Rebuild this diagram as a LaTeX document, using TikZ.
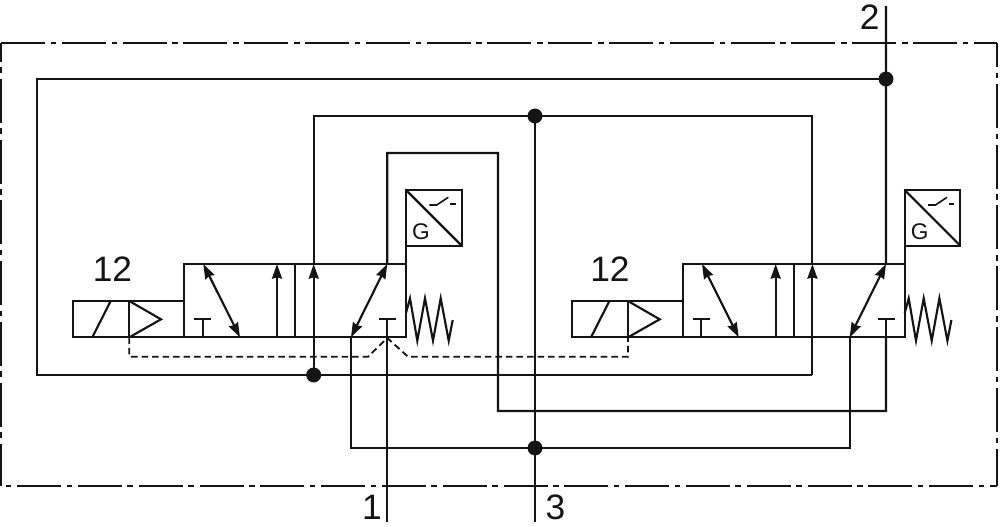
\documentclass[tikz,border=0pt]{standalone}
\usepackage{fontspec}
\setmainfont{Liberation Sans}
\usetikzlibrary{arrows.meta}
\definecolor{ink}{HTML}{141414}
\tikzset{
  x=0.75pt,y=-0.75pt,
  pipe/.style={draw=ink,line width=1.6pt},
  frameline/.style={draw=ink,line width=1.5pt,dash pattern=on 33pt off 4.275pt on 4.2pt off 4.125pt},
  pilot/.style={draw=ink,line width=1.4pt,dash pattern=on 4.9pt off 3pt},
  flow/.style={pipe,-{Stealth[length=11pt,width=7.5pt,inset=1pt]}},
  flowboth/.style={pipe,{Stealth[length=11pt,width=7.5pt,inset=1pt]}-{Stealth[length=11pt,width=7.5pt,inset=1pt]}},
  junction/.style={circle,fill=ink,draw=none,inner sep=0pt,minimum size=11.2pt},
  portlabel/.style={text=ink,font=\fontsize{26.5}{26.5}\selectfont,inner sep=0pt},
  glabel/.style={text=ink,font=\fontsize{17}{17}\selectfont,inner sep=0pt},
  valve/.pic={
    % named ports
    \coordinate (-a3t) at (313.7,264);
    \coordinate (-a4t) at (387.3,264);
    \coordinate (-a4b) at (351,337.3);
    \coordinate (-tb) at (387.3,337.3);
    \coordinate (-pilot) at (129.3,337.3);
    % body
    \draw[pipe] (184.3,264) rectangle (406,337.3);
    \draw[pipe] (295.3,264) -- (295.3,337.3);
    % solenoid
    \draw[pipe] (184.3,301) -- (73.3,301) -- (73.3,337.3) -- (184.3,337.3);
    \draw[pipe] (129.3,301) -- (129.3,337.3);
    \draw[pipe] (92.3,337.3) -- (110.7,301);
    \draw[pipe] (129.3,301) -- (161,319.3) -- (129.3,337.3);
    % flow arrows
    \draw[flowboth] (203.3,264) -- (240,337.3);
    \draw[flow] (277,337.3) -- (277,264);
    \draw[flowboth] (-a4t) -- (-a4b);
    % blocked ports
    \draw[pipe] (194,319.3) -- (211,319.3);
    \draw[pipe] (202.7,319.3) -- (202.7,337.3);
    \draw[pipe] (379,319.3) -- (396.3,319.3);
    \draw[pipe] (387.3,319.3) -- (-tb);
    % spring
    \draw[pipe] (406,313) -- (410,298.3) -- (417.3,340.7) -- (425,298.3) -- (433,340.7) -- (440.7,298.3) -- (448.7,340.7) -- (452.7,320);
    % pressure switch
    \draw[pipe] (406,264) -- (406,190) -- (461.7,190) -- (461.7,245.7) -- (406,245.7);
    \draw[pipe] (406,190) -- (461.7,245.7);
    \node[glabel] (-g) at (421,231.7) {G};
    \draw[draw=ink,line width=1.2pt] (429.3,205) -- (436.7,205) -- (448.3,197.3);
    \draw[draw=ink,line width=1.2pt] (450,204) -- (455.7,204);
  }
}
\begin{document}
\begin{tikzpicture}
\useasboundingbox (0,0) rectangle (1000,526);
\fill[white] (0,0) rectangle (1000,526);
% frame: each side has its own dash phase
\coordinate (f1) at (1,42.5);
\coordinate (f2) at (997,42.5);
\coordinate (f3) at (997,485.5);
\coordinate (f4) at (1,485.5);
\draw[frameline] (f1) -- (f2);
\draw[frameline,dash phase=14.6pt] (f2) -- (f3);
\draw[frameline,dash phase=27.7pt] (f3) -- (f4);
\draw[frameline,dash phase=1.5pt] (f4) -- (f1);
% valves
\pic (L) at (0,0) {valve};
\pic (R) at (498.7,0) {valve};
% junctions
\node[junction] (j2) at (886,79) {};
\node[junction] (jt) at (535,116) {};
\node[junction] (jl) at (313.7,375) {};
\node[junction] (jb) at (535,448) {};
% free ends and bends
\coordinate (p2) at (886,6);
\coordinate (p1) at (387.3,522);
\coordinate (p3) at (535,522);
\coordinate (o1) at (37,79);
\coordinate (o2) at (37,375);
\coordinate (o3) at (812.4,375);
\coordinate (t1) at (313.7,116);
\coordinate (t2) at (812.4,116);
\coordinate (c1) at (387.3,153);
\coordinate (c2) at (498,153);
\coordinate (c3) at (498,411);
\coordinate (c4) at (886,411);
\coordinate (b1) at (351,448);
\coordinate (b2) at (849.7,448);
% connectors
\draw[pipe] (p2) -- (R-a4t);
\draw[pipe] (j2.center) -- (o1) -- (o2) -- (jl.center);
\draw[pipe] (jl.center) -- (o3);
\draw[flow] (jl.center) -- (L-a3t);
\draw[flow] (o3) -- (R-a3t);
\draw[pipe] (L-a3t) -- (t1) -- (t2) -- (R-a3t);
\draw[pipe] (jt.center) -- (p3);
\draw[pipe] (L-a4t) -- (c1) -- (c2) -- (c3) -- (c4) -- (R-tb);
\draw[pipe] (L-tb) -- (p1);
\draw[pipe] (L-a4b) -- (b1) -- (b2) -- (R-a4b);
% pilot line
\coordinate (d1) at (129.3,356.7);
\coordinate (d2) at (368,356.7);
\coordinate (d3) at (387.3,338);
\coordinate (d4) at (408,356.7);
\coordinate (d5) at (628,356.7);
\draw[pilot] (L-pilot) -- (d1) -- (d2) -- (d3) -- (d4) -- (d5) -- (R-pilot);
% labels
\node[portlabel] (n12l) at (112.5,269.5) {12};
\node[portlabel] (n12r) at (610,269.5) {12};
\node[portlabel] (n2) at (869.7,17) {2};
\node[portlabel] (n1) at (372,507) {1};
\node[portlabel] (n3) at (555.5,507) {3};
\end{tikzpicture}
\end{document}
